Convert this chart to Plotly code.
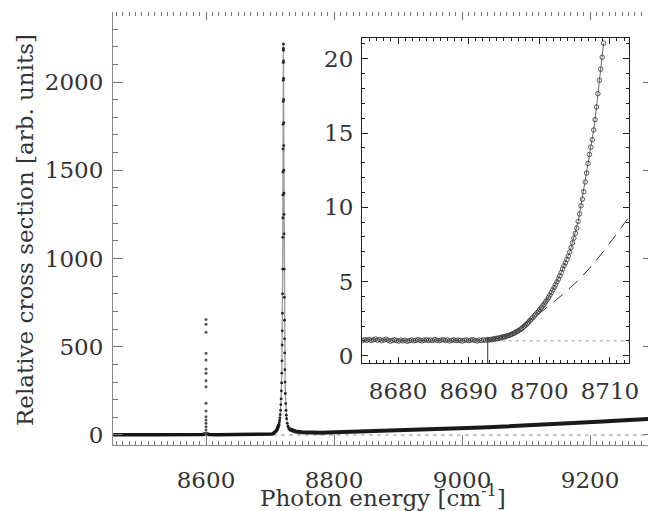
import plotly.graph_objects as go

# ---------------- main spectrum data ----------------
base_left_x = [8455, 8465, 8475, 8485, 8495, 8505, 8515, 8525, 8535, 8545, 8555, 8565, 8575, 8585, 8595,
               8600, 8605, 8615, 8625, 8635, 8645, 8655, 8665, 8675, 8685, 8693, 8697, 8700, 8703, 8705,
               8707, 8709, 8711, 8713, 8714]
base_left_y = [2, 1, 2, 3, 2, 1, 2, 2, 3, 2, 1, 2, 2, 3, 3,
               8, 3, 2, 2, 1, 2, 2, 1, 1, 1, 1, 2, 3, 5, 8,
               13, 21, 30, 45, 60]

spike_x = [8600] * 17
spike_y = [655, 627, 582, 463, 425, 374, 350, 308, 274, 180, 136, 104, 85, 66, 47, 28, 10]

peak_x = [8714.0, 8714.5, 8715.0, 8715.5, 8716.0, 8716.5, 8717.0, 8717.4, 8717.8, 8718.1, 8718.4, 8718.7,
          8719.0, 8719.2, 8719.4, 8719.6, 8719.8, 8720.0, 8720.1, 8720.2, 8720.3, 8720.4, 8720.5, 8720.6,
          8720.7, 8720.8, 8720.9, 8721.0, 8721.1, 8721.2, 8721.3, 8721.4, 8721.5, 8721.6, 8721.7, 8721.8,
          8721.9, 8722.0, 8722.2, 8722.4, 8722.6, 8722.8, 8723.0, 8723.3, 8723.6, 8724.0, 8724.5, 8725.0,
          8725.5, 8726.0, 8727.0, 8728.0, 8729.0, 8730.0]
peak_y = [60, 70, 82, 97, 115, 140, 172, 205, 250, 295, 350, 420,
          510, 590, 690, 800, 940, 1120, 1230, 1360, 1490, 1620, 1760, 1890,
          2010, 2110, 2180, 2215, 2190, 2120, 2020, 1900, 1770, 1640, 1500, 1370,
          1250, 1140, 940, 780, 650, 545, 465, 370, 300, 235, 178, 140,
          112, 92, 66, 50, 40, 33]

tail_x = [8730, 8735, 8740, 8750, 8760, 8770, 8780, 8790, 8800, 8820, 8840, 8860, 8880, 8900, 8920,
          8940, 8960, 8980, 9000, 9020, 9040, 9060, 9080, 9100, 9120, 9140, 9160, 9180, 9200, 9220,
          9240, 9260, 9280, 9291]
tail_y = [33, 25, 20, 16, 14, 13, 13, 14, 15, 17, 19, 20, 22, 24, 27,
          29, 32, 35, 38, 41, 44, 47, 50, 53, 56, 60, 64, 68, 72, 76,
          80, 85, 89, 91]

zero_line_x = [8454.7, 9290.6]
zero_line_y = [0, 0]

# ---------------- inset data ----------------
inset_x = [8675.0, 8675.3, 8675.6, 8675.9, 8676.2, 8676.5, 8676.8, 8677.1, 8677.4, 8677.7, 8678.0, 8678.3,
           8678.6, 8678.9, 8679.2, 8679.5, 8679.8, 8680.1, 8680.4, 8680.7, 8681.0, 8681.3, 8681.6, 8681.9,
           8682.2, 8682.5, 8682.8, 8683.1, 8683.4, 8683.7, 8684.0, 8684.3, 8684.6, 8684.9, 8685.2, 8685.5,
           8685.8, 8686.1, 8686.4, 8686.7, 8687.0, 8687.3, 8687.6, 8687.9, 8688.2, 8688.5, 8688.8, 8689.1,
           8689.4, 8689.7, 8690.0, 8690.3, 8690.6, 8690.9, 8691.2, 8691.5, 8691.8, 8692.1, 8692.4, 8692.7,
           8692.9, 8693.1, 8693.3, 8693.5, 8693.7, 8693.9, 8694.1, 8694.3, 8694.5, 8694.7, 8694.9, 8695.1,
           8695.3, 8695.5, 8695.7, 8695.9, 8696.1, 8696.3, 8696.5, 8696.7, 8696.9, 8697.1, 8697.3, 8697.5,
           8697.7, 8697.9, 8698.1, 8698.3, 8698.5, 8698.7, 8698.9, 8699.1, 8699.3, 8699.5, 8699.7, 8699.9,
           8700.1, 8700.3, 8700.5, 8700.7, 8700.9, 8701.1, 8701.3, 8701.5, 8701.7, 8701.9, 8702.1, 8702.3,
           8702.5, 8702.7, 8702.9, 8703.1, 8703.3, 8703.5, 8703.7, 8703.9, 8704.1, 8704.3, 8704.5, 8704.7,
           8704.9, 8705.1, 8705.3, 8705.5, 8705.7, 8705.9, 8706.1, 8706.3, 8706.5, 8706.7, 8706.9, 8707.1,
           8707.3, 8707.5, 8707.7, 8707.9, 8708.1, 8708.3, 8708.5, 8708.7, 8708.9, 8709.1]
inset_y = [1.02, 1.08, 1.04, 1.10, 1.03, 1.07, 1.12, 1.05, 1.09, 1.01, 1.06, 1.11,
           1.04, 0.98, 1.03, 1.07, 1.02, 0.99, 1.05, 1.00, 1.04, 0.97, 1.02, 1.06,
           1.01, 1.03, 1.08, 1.04, 1.00, 1.05, 1.07, 1.03, 1.06, 1.02, 1.09, 1.04,
           1.01, 1.05, 1.08, 1.03, 1.06, 1.00, 1.04, 1.07, 1.02, 1.05, 1.03, 0.99,
           1.04, 1.06, 1.01, 1.05, 1.08, 1.03, 0.99, 1.06, 1.02, 1.07, 1.04, 1.09,
           1.06, 1.10, 1.08, 1.14, 1.12, 1.17, 1.15, 1.21, 1.19, 1.25, 1.28, 1.26,
           1.32, 1.34, 1.37, 1.41, 1.44, 1.50, 1.53, 1.60, 1.64, 1.70, 1.76, 1.83,
           1.92, 2.00, 2.08, 2.17, 2.27, 2.38, 2.47, 2.58, 2.68, 2.79, 2.90, 3.00,
           3.12, 3.24, 3.37, 3.48, 3.63, 3.76, 3.92, 4.08, 4.25, 4.43, 4.60, 4.78,
           4.97, 5.16, 5.38, 5.60, 5.84, 6.06, 6.25, 6.48, 6.71, 6.98, 7.28, 7.60,
           7.92, 8.25, 8.60, 9.05, 9.55, 10.10, 10.55, 11.05, 11.70, 12.30, 12.95, 13.55,
           14.05, 14.55, 15.20, 15.90, 16.75, 17.65, 18.55, 19.30, 20.10, 21.05]

fit_x = [8697.5, 8700.0, 8702.5, 8705.0, 8707.5, 8710.0, 8712.7]
fit_y = [2.00, 2.85, 3.80, 4.85, 6.10, 7.60, 9.35]

threshold_energy = 8692.7
threshold_mark_y = [-0.5, 1.2]
baseline_level = 1.0
baseline_x = [8692.7, 8712.7]

main_x_range = [8454.7, 9290.6]
main_y_range = [-56.7, 2396.6]
inset_x_range = [8674.9, 8712.7]
inset_y_range = [-0.49, 21.4]

x_title = "Photon energy [cm<sup>-1</sup>]"
y_title = "Relative cross section [arb. units]"

FONT = "DejaVu Serif"
TXT = "#333333"

fig = go.Figure()

fig.add_trace(go.Scatter(x=zero_line_x, y=zero_line_y, mode="lines",
                         line=dict(color="#999999", width=1, dash="4px,4px"), showlegend=False))
fig.add_trace(go.Scatter(x=base_left_x, y=base_left_y, mode="lines",
                         line=dict(color="#151515", width=3.5), showlegend=False))
fig.add_trace(go.Scatter(x=tail_x, y=tail_y, mode="lines",
                         line=dict(color="#1a1a1a", width=4), showlegend=False))
fig.add_trace(go.Scatter(x=spike_x, y=spike_y, mode="markers",
                         marker=dict(color="#555555", size=3), showlegend=False))
fig.add_trace(go.Scatter(x=peak_x, y=peak_y, mode="lines+markers",
                         line=dict(color="#999999", width=1.3),
                         marker=dict(color="#222222", size=2.8), showlegend=False))
fig.add_trace(go.Scatter(x=[], y=[], xaxis="x3", yaxis="y3", showlegend=False))

fig.add_trace(go.Scatter(x=baseline_x, y=[baseline_level, baseline_level], xaxis="x2", yaxis="y2",
                         mode="lines", line=dict(color="#999999", width=1, dash="3px,4px"),
                         showlegend=False))
fig.add_trace(go.Scatter(x=fit_x, y=fit_y, xaxis="x2", yaxis="y2", mode="lines",
                         line=dict(color="#333333", width=1, dash="12px,8px", shape="spline"),
                         showlegend=False))
fig.add_trace(go.Scatter(x=[threshold_energy, threshold_energy], y=threshold_mark_y,
                         xaxis="x2", yaxis="y2", mode="lines",
                         line=dict(color="#333333", width=1), showlegend=False))
fig.add_trace(go.Scatter(x=inset_x, y=inset_y, xaxis="x2", yaxis="y2", mode="lines+markers",
                         line=dict(color="#444444", width=0.8),
                         marker=dict(symbol="circle-open", size=4.5, color="#333333",
                                     line=dict(width=0.8, color="#333333")),
                         showlegend=False))

tickfont = dict(family=FONT, size=23, color=TXT)
titlefont = dict(family=FONT, size=23, color=TXT)

fig.update_layout(
    width=648, height=511,
    margin=dict(l=113, r=0, t=12, b=66, autoexpand=False),
    paper_bgcolor="white", plot_bgcolor="white",
    xaxis=dict(domain=[0, 1], range=main_x_range, tick0=8600, dtick=200, automargin=False,
               ticks="inside", ticklen=10, tickcolor="#777777", tickwidth=1,
               showline=True, linecolor="#888888", linewidth=1,
               showgrid=False, zeroline=False, tickfont=tickfont,
               ticklabelstandoff=14,
               minor=dict(tick0=8600, dtick=10, ticks="inside", ticklen=4, tickcolor="#777777")),
    yaxis=dict(domain=[0, 1], range=main_y_range, tick0=0, dtick=500, automargin=False,
               ticks="inside", ticklen=10, tickcolor="#777777", tickwidth=1,
               showline=True, linecolor="#888888", linewidth=1,
               showgrid=False, zeroline=False, tickfont=tickfont,
               ticklabelstandoff=4,
               minor=dict(tick0=0, dtick=100, ticks="inside", ticklen=5, tickcolor="#777777")),
    xaxis3=dict(overlaying="x", side="top", anchor="y", range=main_x_range, tick0=8600, dtick=200,
                automargin=False,
                ticks="inside", ticklen=8, tickcolor="#777777", showline=False,
                showticklabels=False, showgrid=False, zeroline=False,
                minor=dict(tick0=8600, dtick=10, ticks="inside", ticklen=4, tickcolor="#777777")),
    yaxis3=dict(overlaying="y", side="right", anchor="x", range=main_y_range, tick0=0, dtick=500,
                automargin=False,
                ticks="inside", ticklen=5, tickcolor="#777777", showline=False,
                showticklabels=False, showgrid=False, zeroline=False),
    xaxis2=dict(domain=[0.4654, 0.9645], anchor="y2", range=inset_x_range, tick0=8680, dtick=10,
                automargin=False,
                ticks="inside", ticklen=6, tickcolor="#222222", mirror="allticks",
                showline=True, linecolor="#222222", linewidth=1,
                showgrid=False, zeroline=False, tickfont=tickfont, ticklabelstandoff=7,
                minor=dict(tick0=8680, dtick=1, ticks="inside", ticklen=3, tickcolor="#222222")),
    yaxis2=dict(domain=[0.1894, 0.94], anchor="x2", range=inset_y_range, tick0=0, dtick=5,
                automargin=False,
                ticks="inside", ticklen=6, tickcolor="#222222", mirror="allticks",
                showline=True, linecolor="#222222", linewidth=1,
                showgrid=False, zeroline=False, tickfont=tickfont, ticklabelstandoff=3,
                minor=dict(tick0=0, dtick=1, ticks="inside", ticklen=3, tickcolor="#222222")),
    annotations=[
        dict(text=x_title, xref="paper", yref="paper", x=0.5056, y=-0.118,
             xanchor="center", yanchor="middle", showarrow=False, font=titlefont),
        dict(text=y_title, xref="paper", yref="paper", x=-0.1645, y=0.4965,
             xanchor="center", yanchor="middle", textangle=-90, showarrow=False, font=titlefont),
    ],
)

fig.write_html("out.html")
